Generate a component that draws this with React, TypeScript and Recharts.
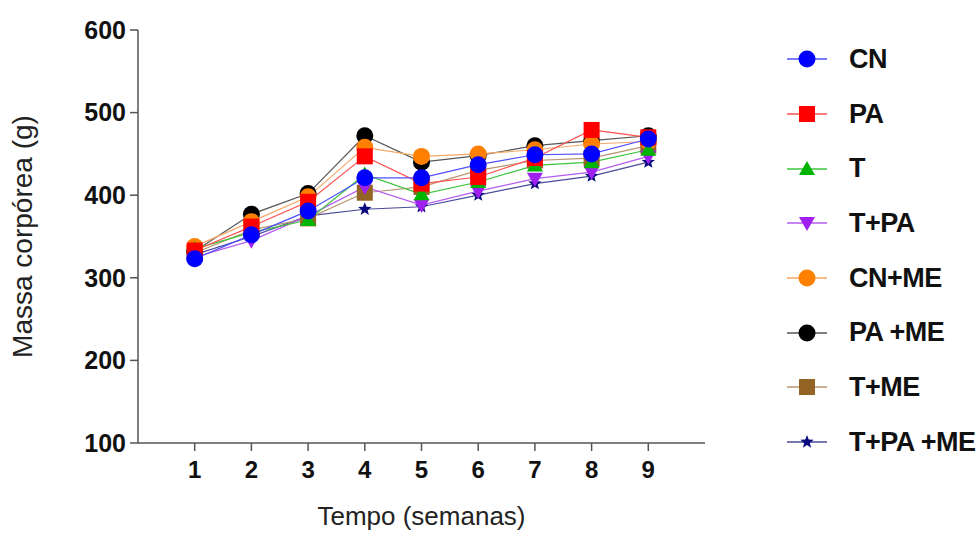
import { Line, LineChart, XAxis, YAxis } from "recharts";

// semanas 1..9
const weeks = [1, 2, 3, 4, 5, 6, 7, 8, 9];

// massa corporea (g) por grupo
const cn = [323, 352, 381, 421, 421, 437, 449, 450, 468];
const pa = [333, 362, 392, 447, 414, 422, 445, 479, 470];
const t = [335, 355, 370, 425, 401, 416, 436, 440, 455];
const tPa = [325, 345, 375, 410, 388, 405, 420, 428, 447];
const cnMe = [338, 368, 398, 458, 447, 450, 455, 462, 465];
const paMe = [332, 377, 402, 472, 440, 448, 460, 466, 472];
const tMe = [330, 358, 372, 403, 410, 430, 442, 445, 460];
const tPaMe = [328, 350, 375, 383, 386, 400, 414, 423, 440];

const yTicks = [100, 200, 300, 400, 500, 600];

type Shape = "circle" | "square" | "triangle" | "triangleDown" | "star";

const series: { key: string; name: string; color: string; line: string; shape: Shape; values: number[] }[] = [
  { key: "cn", name: "CN", color: "#0000ff", line: "#4f4fff", shape: "circle", values: cn },
  { key: "pa", name: "PA", color: "#ff0000", line: "#ff5050", shape: "square", values: pa },
  { key: "t", name: "T", color: "#00b400", line: "#3cc43c", shape: "triangle", values: t },
  { key: "tPa", name: "T+PA", color: "#a020f0", line: "#b55cf0", shape: "triangleDown", values: tPa },
  { key: "cnMe", name: "CN+ME", color: "#ff8000", line: "#f5a866", shape: "circle", values: cnMe },
  { key: "paMe", name: "PA +ME", color: "#000000", line: "#555555", shape: "circle", values: paMe },
  { key: "tMe", name: "T+ME", color: "#946424", line: "#b89570", shape: "square", values: tMe },
  { key: "tPaMe", name: "T+PA +ME", color: "#0a0a80", line: "#4a4a9a", shape: "star", values: tPaMe },
];

const data = weeks.map((w, i) => {
  const row: Record<string, number> = { week: w };
  series.forEach((s) => {
    row[s.key] = s.values[i];
  });
  return row;
});

const FONT = "'Liberation Sans', Arial, sans-serif";

function Marker({ cx, cy, shape, color }: { cx: number; cy: number; shape: Shape; color: string }) {
  if (shape === "circle") return <circle cx={cx} cy={cy} r={8.5} fill={color} />;
  if (shape === "square") return <rect x={cx - 8} y={cy - 8} width={16} height={16} fill={color} />;
  if (shape === "triangle")
    return <polygon points={`${cx},${cy - 8} ${cx + 8},${cy + 6} ${cx - 8},${cy + 6}`} fill={color} />;
  if (shape === "triangleDown")
    return <polygon points={`${cx},${cy + 8} ${cx + 8},${cy - 6} ${cx - 8},${cy - 6}`} fill={color} />;
  const pts: string[] = [];
  for (let k = 0; k < 10; k++) {
    const r = k % 2 === 0 ? 7 : 3;
    const a = -Math.PI / 2 + (k * Math.PI) / 5;
    pts.push(`${cx + r * Math.cos(a)},${cy + r * Math.sin(a)}`);
  }
  return <polygon points={pts.join(" ")} fill={color} />;
}

function SideLegend() {
  return (
    <div style={{ position: "absolute", left: 785, top: 32, fontFamily: FONT }}>
      {series.map((s) => (
        <div key={s.key} style={{ display: "flex", alignItems: "center", height: 54.7 }}>
          <svg width={44} height={20}>
            <line x1={2} y1={10} x2={42} y2={10} stroke={s.line} strokeWidth={1.5} />
            <Marker cx={22} cy={10} shape={s.shape} color={s.color} />
          </svg>
          <span
            style={{
              marginLeft: 20,
              fontSize: 27,
              fontWeight: 700,
              color: "#111",
              whiteSpace: "nowrap",
              letterSpacing: -0.5,
            }}
          >
            {s.name}
          </span>
        </div>
      ))}
    </div>
  );
}

const YTitle = (props: any) => {
  const vb = props.viewBox;
  const cx = 22;
  const cy = vb.y + vb.height / 2;
  return (
    <text
      x={0}
      y={0}
      transform={`translate(${cx},${cy}) rotate(-90)`}
      textAnchor="middle"
      dominantBaseline="central"
      fill="#222"
      fontSize={28}
      fontFamily={FONT}
    >
      Massa corpórea (g)
    </text>
  );
};

export default function App() {
  const drawOrder = [...series].reverse();
  return (
    <div style={{ position: "absolute", left: 0, top: 0, width: 980, height: 538, background: "#fff" }}>
      <LineChart width={980} height={538} data={data} margin={{ top: 30, right: 275, bottom: 0, left: 0 }}>
        <XAxis
          dataKey="week"
          type="number"
          domain={[0, 10]}
          ticks={weeks}
          stroke="#555"
          strokeWidth={1.5}
          tickSize={8}
          height={95}
          tick={{ fill: "#111", fontSize: 24, fontWeight: 700, fontFamily: FONT, dy: 8 }}
          label={{
            value: "Tempo (semanas)",
            position: "insideTop",
            offset: 64,
            fill: "#222",
            fontSize: 26,
            fontFamily: FONT,
          }}
        />
        <YAxis
          type="number"
          domain={[100, 600]}
          ticks={yTicks}
          stroke="#555"
          strokeWidth={1.5}
          tickSize={8}
          width={138}
          tick={{ fill: "#111", fontSize: 25, fontWeight: 700, fontFamily: FONT, dx: -2 }}
          label={<YTitle />}
        />
        {drawOrder.map((s) => (
          <Line
            key={s.key}
            dataKey={s.key}
            name={s.name}
            stroke={s.line}
            strokeWidth={1.2}
            isAnimationActive={false}
            dot={(p: any) => <Marker key={`${s.key}-${p.index}`} cx={p.cx} cy={p.cy} shape={s.shape} color={s.color} />}
            activeDot={false}
          />
        ))}
      </LineChart>
      <SideLegend />
    </div>
  );
}
